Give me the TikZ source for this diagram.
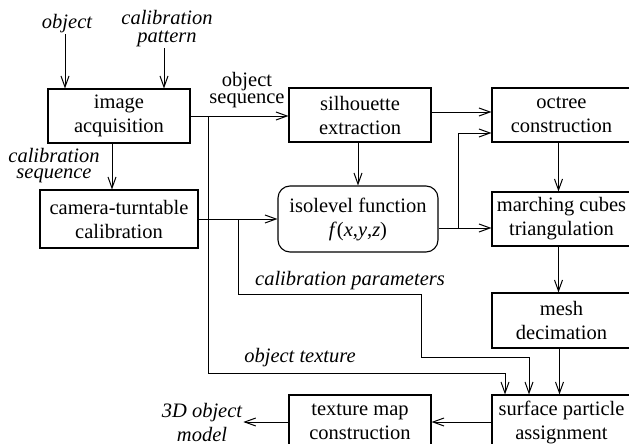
\documentclass[tikz,border=0pt]{standalone}
\usepackage{fontspec}
\setmainfont{Liberation Serif}
\usetikzlibrary{arrows.meta}
\begin{document}
\begin{tikzpicture}[x=1pt,y=-1pt,
  box/.style={draw,line width=1.1pt,inner sep=0pt,align=center,font=\fontsize{20.5}{24}\selectfont},
  lbl/.style={inner sep=1pt,align=center,font=\fontsize{20.5}{24}\selectfont\itshape},
  arr/.style={line width=1pt,-{Straight Barb[length=11pt,width=8pt,line width=1pt]}},
  ln/.style={line width=1pt}]
\useasboundingbox (0,0) rectangle (629,444);
\clip (0,0) rectangle (629,444);
% boxes
\node[box,minimum width=142pt,minimum height=54pt] (img) at (119,116) {image\\acquisition};
\node[box,minimum width=158pt,minimum height=58pt] (cam) at (119,219) {camera-turntable\\calibration};
\node[box,minimum width=142pt,minimum height=54pt] (sil) at (360,115) {silhouette\\extraction};
\node[box,minimum width=139pt,minimum height=54pt] (oct) at (561.5,115) {octree\\construction};
\node[box,rounded corners=12pt,minimum width=160pt,minimum height=66pt] (iso) at (358,219) {isolevel function\\\textit{f}(\textit{x},\textit{y},\textit{z})};
\node[box,minimum width=139pt,minimum height=54pt] (mc) at (561.5,219) {marching cubes\\triangulation};
\node[box,minimum width=139pt,minimum height=55pt] (mesh) at (561.5,320.5) {mesh\\decimation};
\node[box,minimum width=139pt,minimum height=54pt] (surf) at (561.5,422) {surface particle\\assignment};
\node[box,minimum width=142pt,minimum height=54pt] (tex) at (360,422) {texture map\\construction};
% labels
\node[lbl] (obj) at (67,24) {object};
\node[lbl,font=\fontsize{20.5}{18}\selectfont\itshape] (pat) at (167,29) {calibration\\pattern};
\node[lbl,font=\fontsize{20.5}{16}\selectfont\itshape] (calseq) at (54,166) {calibration\\sequence};
\node[lbl,font=\fontsize{20.5}{17}\selectfont] (objseq) at (247,90) {object\\sequence};
\node[lbl] (calpar) at (350,281) {calibration parameters};
\node[lbl] (objtex) at (300,358) {object texture};
\node[lbl] (out) at (202,422) {3D object\\model};
% coordinates
\coordinate (j1) at (208,116);
\coordinate (j2) at (238,219);
\coordinate (j3) at (458,228);
\coordinate (otx) at (505,373);
\coordinate (cp1) at (421,294);
\coordinate (cp2) at (529,357);
% connectors
\draw[arr] ([xshift=-2pt]obj.south) -- ([xshift=-2pt]obj.south |- img.north);
\draw[arr] ([xshift=-3pt]pat.south) -- ([xshift=-3pt]pat.south |- img.north);
\draw[arr] ([xshift=-7pt]img.south) -- ([xshift=-7pt]img.south |- cam.north);
\draw[arr] (img.east) -- (img.east -| sil.west);
\draw[arr] (cam.east) -- (cam.east -| iso.west);
\draw[ln] (j1) |- (otx);
\draw[arr] (otx) -- (otx |- surf.north);
\draw[ln] (j2) |- (cp1) |- (cp2);
\draw[arr] (cp2) -- (cp2 |- surf.north);
\draw[arr] ([yshift=3pt]sil.east) -- ([yshift=3pt]sil.east -| oct.west);
\draw[arr] (iso.north |- sil.south) -- (iso.north);
\draw[arr] ([yshift=-9pt]iso.east) -- ([yshift=-9pt]iso.east -| mc.west);
\draw[arr] (j3) |- ([yshift=-18pt]oct.west);
\draw[arr] ([xshift=-3pt]oct.south) -- ([xshift=-3pt]mc.north);
\draw[arr] ([xshift=-3pt]mc.south) -- ([xshift=-3pt]mesh.north);
\draw[arr] ([xshift=-2pt]mesh.south) -- ([xshift=-2pt]surf.north);
\draw[arr] (surf.west) -- (tex.east);
\draw[arr] (tex.west) -- (tex.west -| out.east);
\end{tikzpicture}
\end{document}
